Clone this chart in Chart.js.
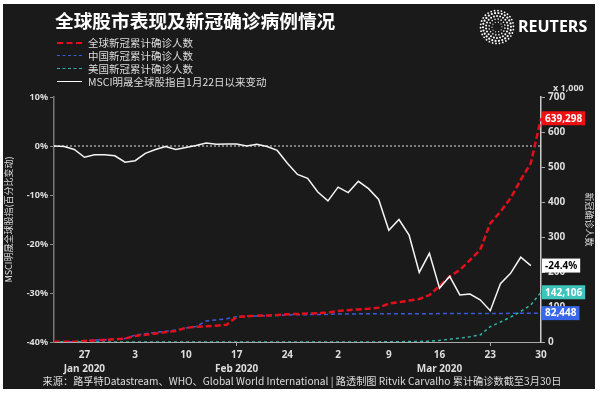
<!DOCTYPE html>
<html>
<head>
<meta charset="utf-8">
<script src="https://cdn.jsdelivr.net/npm/chart.js@4"></script>
<style>
  body { margin: 0; background: #fff; width: 601px; height: 393px; overflow: hidden;
         font-family: "Noto Sans CJK SC", "Noto Sans", sans-serif; }
  #frame { position: absolute; left: 3px; top: 4px; width: 592px; height: 385px; background: #1a1a1a; }
  #chart { position: absolute; left: 0; top: 0; }
  .title { position: absolute; left: 52px; top: 5px; color: #fff; font-size: 18.7px; font-weight: bold;
           line-height: 21px; white-space: nowrap; }
  .legend { position: absolute; left: 54px; top: 32px; font-size: 10.5px; color: #ddd; }
  .legend div { height: 13px; line-height: 13px; display: flex; align-items: center; white-space: nowrap; }
  .legend .sw { width: 25px; margin-right: 6px; height: 0; }
  .source { position: absolute; top: 370px; left: 0; width: 598px; text-align: center; color: #ddd;
            font-size: 10.2px; line-height: 14px; white-space: nowrap; }
</style>
</head>
<body>
<div id="frame">
  <canvas id="chart" width="592" height="385"></canvas>
  <div class="title">全球股市表现及新冠确诊病例情况</div>
  <div class="legend">
    <div><span class="sw" style="border-top:2px dashed #e3101c"></span>全球新冠累计确诊人数</div>
    <div><span class="sw" style="border-top:1.5px dashed #3a5ad9"></span>中国新冠累计确诊人数</div>
    <div><span class="sw" style="border-top:1.5px dashed #2fb5a8"></span>美国新冠累计确诊人数</div>
    <div><span class="sw" style="border-top:1.5px solid #fff"></span>MSCI明晟全球股指自1月22日以来变动</div>
  </div>
  <div class="source">来源：路孚特Datastream、WHO、Global World International | 路透制图 Ritvik Carvalho 累计确诊数截至3月30日</div>
</div>
<script>
// trading days shown on the x axis
const dates = [
  "2020-01-22", "2020-01-23", "2020-01-24",
  "2020-01-27", "2020-01-28", "2020-01-29", "2020-01-30", "2020-01-31",
  "2020-02-03", "2020-02-04", "2020-02-05", "2020-02-06", "2020-02-07",
  "2020-02-10", "2020-02-11", "2020-02-12", "2020-02-13", "2020-02-14",
  "2020-02-17", "2020-02-18", "2020-02-19", "2020-02-20", "2020-02-21",
  "2020-02-24", "2020-02-25", "2020-02-26", "2020-02-27", "2020-02-28",
  "2020-03-02", "2020-03-03", "2020-03-04", "2020-03-05", "2020-03-06",
  "2020-03-09", "2020-03-10", "2020-03-11", "2020-03-12", "2020-03-13",
  "2020-03-16", "2020-03-17", "2020-03-18", "2020-03-19", "2020-03-20",
  "2020-03-23", "2020-03-24", "2020-03-25", "2020-03-26", "2020-03-27",
  "2020-03-30",
];

// confirmed cases, thousands
const worldCases = [
  0.6, 0.8, 1.0,
  2.9, 4.6, 6.1, 7.8, 9.8,
  17.4, 20.6, 24.6, 28.3, 31.5,
  40.6, 43.1, 45.2, 46.6, 49.0,
  71.4, 73.3, 75.2, 75.7, 76.8,
  79.3, 80.2, 81.1, 82.3, 83.7,
  88.9, 90.9, 93.1, 95.3, 98.2,
  109.6, 113.7, 118.3, 123, 134,
  160, 187, 206, 234, 263,
  339, 372, 411, 463, 511,
  639.298,
];
const chinaCases = [
  0.55, 0.64, 0.92,
  2.9, 5.5, 6.1, 8.1, 9.8,
  19.7, 23.7, 27.4, 30.6, 34.1,
  40.2, 44.4, 60.0, 63.0, 66.4,
  72.4, 74.2, 74.6, 75.1, 75.6,
  77.2, 77.8, 78.2, 78.6, 78.9,
  80.0, 80.2, 80.4, 80.6, 80.8,
  80.9, 80.9, 81.0, 81.0, 81.0,
  81.1, 81.1, 81.2, 81.3, 81.4,
  81.6, 81.7, 81.8, 82.0, 82.2,
  82.448,
];
const usCases = [
  0.001, 0.001, 0.002,
  0.005, 0.005, 0.005, 0.005, 0.007,
  0.011, 0.011, 0.012, 0.012, 0.012,
  0.012, 0.013, 0.013, 0.014, 0.015,
  0.015, 0.015, 0.015, 0.015, 0.015,
  0.035, 0.053, 0.057, 0.06, 0.06,
  0.1, 0.12, 0.16, 0.22, 0.32,
  0.55, 0.95, 1.3, 1.7, 2.2,
  4.6, 8, 11, 15, 20,
  44, 57, 71, 87, 106,
  142.106,
];
// MSCI ACWI, % change since 22 Jan
const msciChange = [
  0, -0.1, -0.7,
  -2.3, -1.8, -1.8, -2.0, -3.3,
  -3.0, -1.5, -0.7, -0.1, -0.7,
  -0.3, 0.1, 0.6, 0.35, 0.4,
  0.4, 0.0, 0.35, -0.1, -0.9,
  -3.5, -5.8, -6.6, -9.4, -11.2,
  -8.4, -9.5, -7.2, -8.7, -10.9,
  -17.2, -15.0, -18.2, -25.8, -21.9,
  -29.0, -26.6, -30.4, -30.2, -31.4,
  -33.6, -28.1, -26.0, -22.7, -24.4,
  null,
];

const monthLabels = ["Jan 2020", "Feb 2020", "Mar 2020"];
const monthLabelDates = ["2020-01-27", "2020-02-17", "2020-03-16"];

const isMonday = (i) => new Date(dates[i] + "T00:00:00").getDay() === 1;

const tickFont = { family: "'Noto Sans', sans-serif", weight: "bold", size: 10 };
const cjkFont = { family: "'Noto Sans CJK SC', sans-serif", size: 9 };

const overlays = {
  id: "overlays",
  beforeDatasetsDraw(chart) {
    const { ctx, chartArea } = chart;
    const y0 = chart.scales.yPct.getPixelForValue(0);
    ctx.save();
    ctx.strokeStyle = "#e0e0e0";
    ctx.lineWidth = 1;
    ctx.setLineDash([2, 2]);
    ctx.beginPath();
    ctx.moveTo(chartArea.left, y0);
    ctx.lineTo(chartArea.right, y0);
    ctx.stroke();
    ctx.restore();
  },
  afterDraw(chart) {
    const { ctx, chartArea } = chart;
    ctx.save();

    // end-of-series labels
    const tags = [
      { ds: 0, bg: "#ee1111", fg: "#fff", fmt: (v) => Math.round(v * 1000).toLocaleString("en-US") },
      { ds: 1, bg: "#ffffff", fg: "#000", fmt: (v) => v.toFixed(1) + "%" },
      { ds: 2, bg: "#3fc4bc", fg: "#fff", fmt: (v) => Math.round(v * 1000).toLocaleString("en-US") },
      { ds: 3, bg: "#3868e8", fg: "#fff", fmt: (v) => Math.round(v * 1000).toLocaleString("en-US") },
    ];
    ctx.font = "bold 10px 'Noto Sans', sans-serif";
    ctx.textBaseline = "middle";
    ctx.textAlign = "left";
    tags.forEach((t) => {
      const dataset = chart.data.datasets[t.ds];
      const vals = dataset.data.filter((v) => v !== null);
      const v = vals[vals.length - 1];
      const y = chart.scales[dataset.yAxisID].getPixelForValue(v);
      const text = t.fmt(v);
      const w = ctx.measureText(text).width + 6;
      ctx.fillStyle = t.bg;
      ctx.fillRect(chartArea.right + 1, y - 7, w, 14);
      ctx.fillStyle = t.fg;
      ctx.fillText(text, chartArea.right + 4, y + 0.5);
    });

    // unit note above right axis
    ctx.fillStyle = "#ddd";
    ctx.font = "bold 9px 'Noto Sans', sans-serif";
    ctx.fillText("x 1,000", chartArea.right + 12, chartArea.top - 9);

    // Reuters mark
    const cx = 494, cy = 23;
    ctx.fillStyle = "#fff";
    const rings = [[5, 10, 0.6], [8, 16, 0.8], [11, 22, 1.0], [14, 26, 1.1], [16.5, 30, 0.9]];
    rings.forEach(([r, n, s]) => {
      for (let k = 0; k < n; k++) {
        const a = (k / n) * Math.PI * 2 + r;
        ctx.beginPath();
        ctx.arc(cx + r * Math.cos(a), cy + r * Math.sin(a), s, 0, Math.PI * 2);
        ctx.fill();
      }
    });
    ctx.font = "bold 16px 'Open Sans', sans-serif";
    ctx.fillText("REUTERS", 515, 23);
    ctx.restore();
  },
};

new Chart(document.getElementById("chart"), {
  type: "line",
  data: {
    labels: dates,
    datasets: [
      {
        label: "全球新冠累计确诊人数",
        data: worldCases,
        yAxisID: "yCases",
        borderColor: "#e3101c",
        borderWidth: 2.5,
        borderDash: [6, 3],
        order: 2,
      },
      {
        label: "MSCI明晟全球股指自1月22日以来变动",
        data: msciChange,
        yAxisID: "yPct",
        borderColor: "#f4f4f4",
        borderWidth: 1.5,
        order: 1,
      },
      {
        label: "美国新冠累计确诊人数",
        data: usCases,
        yAxisID: "yCases",
        borderColor: "#2fb5a8",
        borderWidth: 1.5,
        borderDash: [3, 3],
        order: 3,
      },
      {
        label: "中国新冠累计确诊人数",
        data: chinaCases,
        yAxisID: "yCases",
        borderColor: "#3a5ad9",
        borderWidth: 1.5,
        borderDash: [4, 3],
        order: 3,
      },
    ],
  },
  options: {
    responsive: false,
    animation: false,
    devicePixelRatio: 1,
    spanGaps: true,
    elements: { point: { radius: 0 }, line: { tension: 0 } },
    layout: { padding: { top: 93, left: 0, right: 0, bottom: 0 } },
    plugins: { legend: { display: false }, tooltip: { enabled: false } },
    scales: {
      x: {
        offset: false,
        afterFit: (s) => { s.height = 47; },
        border: { color: "#aaa", width: 1 },
        grid: {
          drawOnChartArea: false,
          tickLength: 4,
          color: (c) => (c.index !== undefined && isMonday(c.index) ? "#aaa" : "rgba(0,0,0,0)"),
        },
        ticks: {
          autoSkip: false,
          maxRotation: 0,
          padding: 2,
          color: "#ddd",
          font: { ...tickFont, lineHeight: 1.4 },
          callback: function (value, index) {
            if (!isMonday(index)) return null;
            const day = String(new Date(dates[index] + "T00:00:00").getDate());
            const m = monthLabelDates.indexOf(dates[index]);
            return m >= 0 ? [day, monthLabels[m]] : day;
          },
        },
      },
      yPct: {
        position: "left",
        min: -40,
        max: 10,
        afterFit: (s) => { s.width = 51; },
        border: { color: "#777", width: 1.5 },
        grid: { drawOnChartArea: false, tickLength: 4, color: "#888" },
        ticks: {
          stepSize: 10,
          padding: 2,
          color: "#ddd",
          font: { ...tickFont, size: 9 },
          callback: (v) => v + "%",
        },
        title: {
          display: true,
          text: "MSCI明晟全球股指(百分比变动)",
          color: "#ddd",
          font: cjkFont,
          padding: { top: 0, bottom: 2 },
        },
      },
      yCases: {
        position: "right",
        min: 0,
        max: 700,
        afterFit: (s) => { s.width = 54; },
        border: { color: "#ccc", width: 1.5 },
        grid: { drawOnChartArea: false, tickLength: 4, color: "#aaa" },
        ticks: {
          stepSize: 100,
          padding: 3,
          color: "#ddd",
          font: tickFont,
        },
        title: {
          display: true,
          text: "新冠确诊人数",
          color: "#ddd",
          font: cjkFont,
          padding: { top: 0, bottom: 2 },
        },
      },
    },
  },
  plugins: [overlays],
});
</script>
</body>
</html>
